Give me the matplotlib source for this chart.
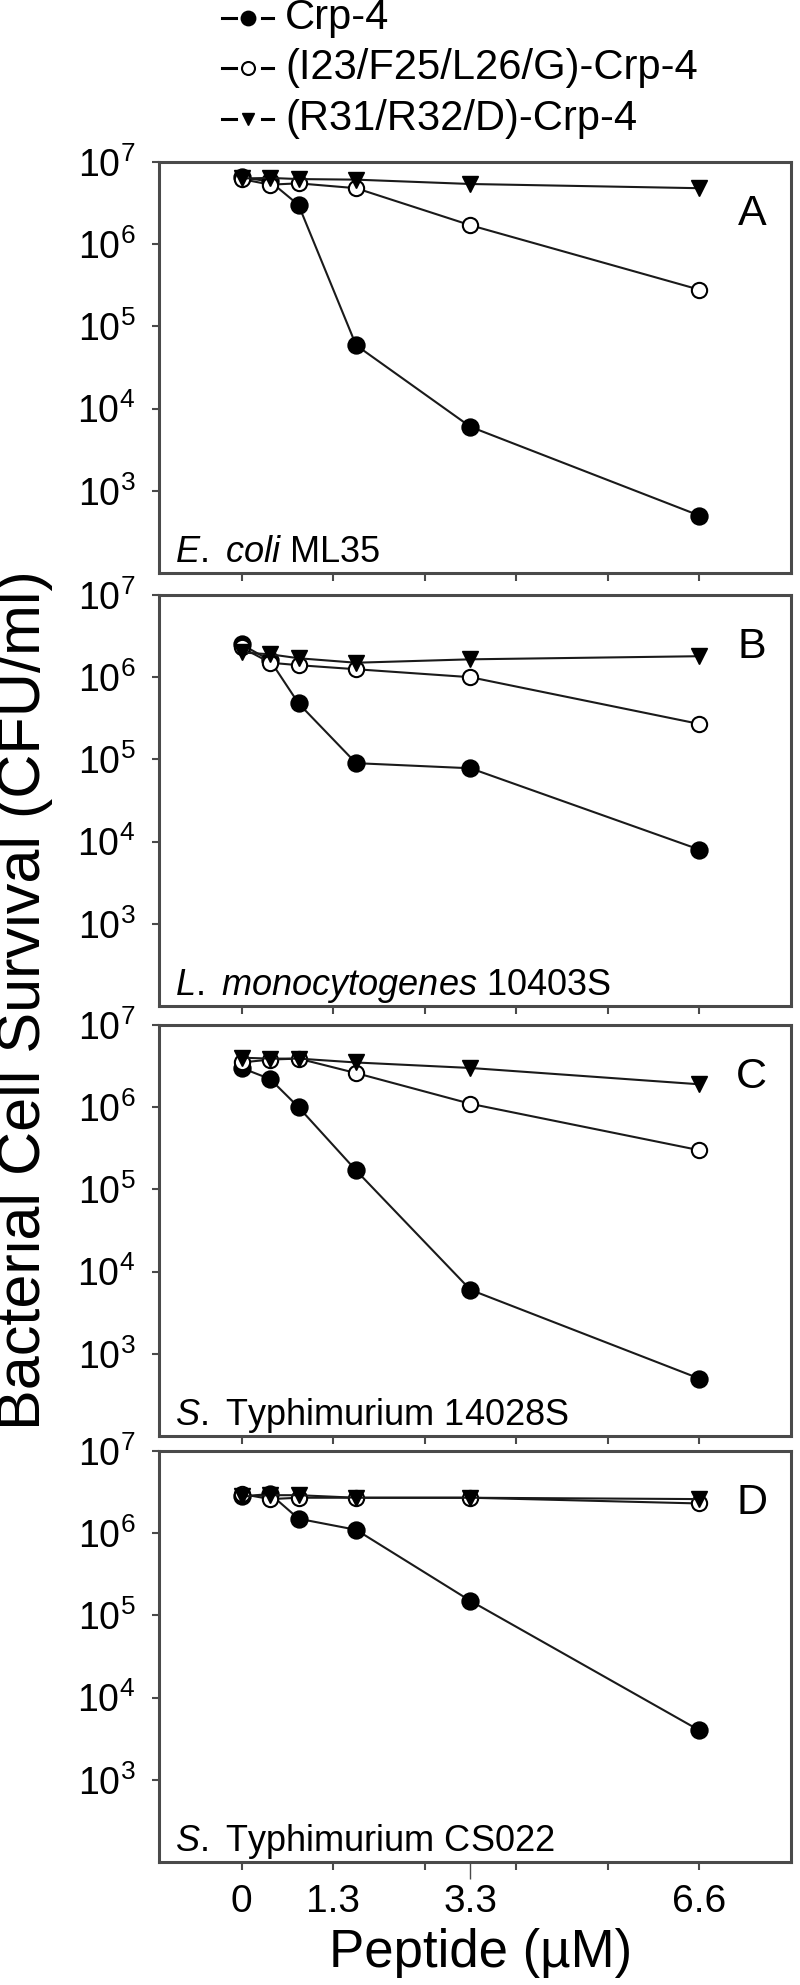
import matplotlib
matplotlib.use("Agg")
import matplotlib.pyplot as plt
from matplotlib.lines import Line2D
import numpy as np

plt.rcParams['font.family'] = ['Liberation Sans', 'DejaVu Sans']
plt.rcParams['mathtext.fontset'] = 'custom'
plt.rcParams['mathtext.rm'] = 'Liberation Sans'
plt.rcParams['mathtext.it'] = 'Liberation Sans:italic'

# ---------------- data ----------------
dose = [0, 0.41, 0.82, 1.65, 3.3, 6.6]
series_names = ["Crp-4", "(I23/F25/L26/G)-Crp-4", "(R31/R32/D)-Crp-4"]

A_crp = [6.5e6, 5.8e6, 3.0e6, 5.9e4, 6.0e3, 5.0e2]
A_i23 = [6.2e6, 5.3e6, 5.5e6, 4.8e6, 1.7e6, 2.8e5]
A_r31 = [6.3e6, 6.4e6, 6.2e6, 6.1e6, 5.4e6, 4.8e6]

B_crp = [2.5e6, 1.6e6, 4.8e5, 9.0e4, 7.8e4, 8.0e3]
B_i23 = [2.3e6, 1.5e6, 1.4e6, 1.25e6, 1.0e6, 2.7e5]
B_r31 = [2.0e6, 1.9e6, 1.7e6, 1.5e6, 1.65e6, 1.8e6]

C_crp = [3.0e6, 2.2e6, 1.0e6, 1.7e5, 6.0e3, 5.0e2]
C_i23 = [3.5e6, 3.8e6, 3.9e6, 2.6e6, 1.1e6, 3.0e5]
C_r31 = [4.0e6, 3.9e6, 3.9e6, 3.5e6, 3.0e6, 1.9e6]

D_crp = [2.8e6, 3.0e6, 1.5e6, 1.1e6, 1.5e5, 4.0e3]
D_i23 = [3.0e6, 2.6e6, 2.7e6, 2.7e6, 2.7e6, 2.3e6]
D_r31 = [2.8e6, 2.9e6, 2.9e6, 2.7e6, 2.7e6, 2.6e6]

panel_letters = ["A", "B", "C", "D"]
strain_labels = [r"$\mathit{E.}$ $\mathit{coli}$ ML35",
                 r"$\mathit{L.}$ $\mathit{monocytogenes}$ 10403S",
                 r"$\mathit{S.}$ Typhimurium 14028S",
                 r"$\mathit{S.}$ Typhimurium CS022"]
panels = [(A_crp, A_i23, A_r31), (B_crp, B_i23, B_r31),
          (C_crp, C_i23, C_r31), (D_crp, D_i23, D_r31)]

xtick_pos = [0, 1.32, 2.64, 3.96, 5.28, 6.6]
xtick_lab = ["0", "1.3", "", "", "", "6.6"]
xminor_pos = [3.3]
xminor_lab = ["3.3"]
ytick_pos = [1e3, 1e4, 1e5, 1e6, 1e7]
ytick_lab = [r"$10^{3}$", r"$10^{4}$", r"$10^{5}$", r"$10^{6}$", r"$10^{7}$"]

# ---------------- figure ----------------
W, H = 800, 1985
fig = plt.figure(figsize=(W / 100, H / 100), dpi=100)

ax_left, ax_w, ax_h = 159, 632, 411
tops = [162, 595, 1025, 1451]

styles = [dict(marker='o', ms=12, mfc='black', mec='black', mew=1.2),
          dict(marker='o', ms=11, mfc='white', mec='black', mew=1.5),
          dict(marker='v', ms=11, mfc='black', mec='black', mew=1.0)]

frame_col = '#4a4a4a'
line_col = '#1a1a1a'

for i, (top, data) in enumerate(zip(tops, panels)):
    ax = fig.add_axes([ax_left / W, 1 - (top + ax_h) / H, ax_w / W, ax_h / H])
    for vals, st in zip(data, styles):
        ax.plot(dose, vals, color=line_col, lw=1.5, **st)
    ax.set_yscale('log')
    ax.set_ylim(1e2, 1e7)
    ax.set_xlim(-1.193, 7.923)
    ax.set_yticks(ytick_pos)
    ax.set_yticklabels(ytick_lab)
    ax.yaxis.set_minor_locator(matplotlib.ticker.NullLocator())
    ax.set_xticks(xtick_pos)
    ax.tick_params(axis='both', which='major', direction='out', length=5,
                   width=1.5, color=frame_col, labelsize=27, pad=12)
    ax.tick_params(axis='x', which='major', length=6, labelsize=28, pad=10)
    if i == 3:
        ax.set_xticklabels(xtick_lab)
        ax.set_xticks(xminor_pos, minor=True)
        ax.set_xticklabels(xminor_lab, minor=True)
        ax.tick_params(axis='x', which='minor', direction='out', length=12,
                       width=1.0, color=frame_col, labelsize=28, pad=4)
    else:
        ax.set_xticklabels([])
    for sp in ax.spines.values():
        sp.set_linewidth(2.2)
        sp.set_color(frame_col)
    ax.text(0.938, 0.873, panel_letters[i], transform=ax.transAxes,
            fontsize=31, ha='center', va='center')
    ax.text(0.025, 0.027, strain_labels[i], transform=ax.transAxes,
            fontsize=26, ha='left', va='baseline')

# axis titles
fig.text(481 / W, 1 - 1953 / H, "Peptide (µM)", fontsize=38,
         ha='center', va='center')
fig.text(25 / W, 1 - 1000 / H, "Bacterial Cell Survival (CFU/ml)",
         rotation=90, fontsize=44, ha='center', va='center')

# legend (manual)
leg_rows = [18, 68, 119]
for y, st, name in zip(leg_rows, styles, series_names):
    yf = 1 - y / H
    fig.add_artist(Line2D([222 / W, 236 / W], [yf, yf], color='black', lw=2.2,
                          transform=fig.transFigure))
    fig.add_artist(Line2D([262 / W, 273 / W], [yf, yf], color='black', lw=2.2,
                          transform=fig.transFigure))
    st2 = dict(st)
    st2['ms'] = st['ms'] * 0.85
    fig.add_artist(Line2D([247.5 / W], [yf], linestyle='none',
                          transform=fig.transFigure, **st2))
    fig.text(285 / W, yf, name, fontsize=30, ha='left', va='center')

fig.savefig("out.png", dpi=100)
